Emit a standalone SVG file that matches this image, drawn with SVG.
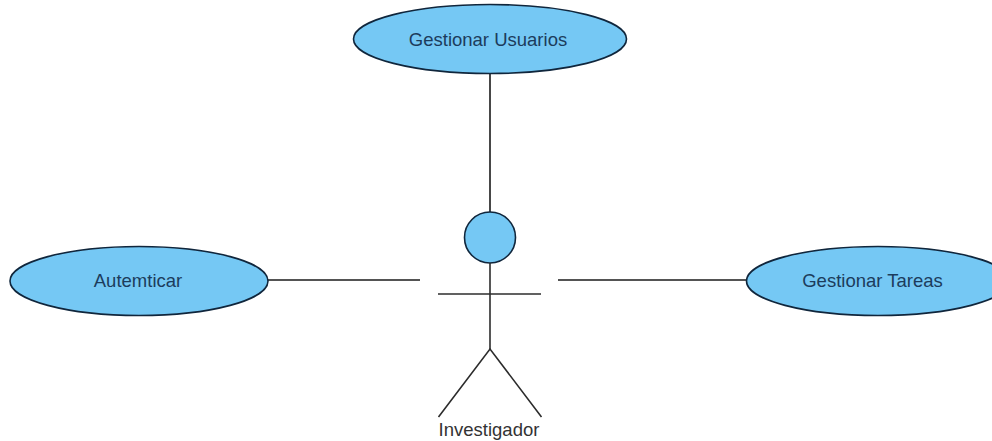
<svg xmlns="http://www.w3.org/2000/svg" width="992" height="441" viewBox="0 0 992 441">
<style>
.uc{fill:#75c8f4;stroke:#10263c;stroke-width:1.6}
.ln{stroke:#1a1a1a;stroke-width:1.6;fill:none}
.act{stroke:#2c2c2c;stroke-width:1.6;fill:none}
text{font-family:"Liberation Sans",Arial,sans-serif;font-size:18.500px;text-anchor:middle}
.ut{fill:#1c3c5c}
.at{fill:#333}
</style>
<rect width="992" height="441" fill="#fff"/>
<g id="connectors">
<line class="ln" x1="490" y1="74" x2="490" y2="212"/>
<line class="ln" x1="268" y1="280" x2="420" y2="280"/>
<line class="ln" x1="558" y1="280" x2="747" y2="280"/>
</g>
<g id="gestionar-usuarios">
<ellipse class="uc" cx="490" cy="39" rx="136.500" ry="34.500"/>
<text class="ut" x="488" y="46">Gestionar Usuarios</text>
</g>
<g id="autenticar">
<ellipse class="uc" cx="139" cy="281" rx="129" ry="34.500"/>
<text class="ut" x="138" y="287">Autemticar</text>
</g>
<g id="gestionar-tareas">
<ellipse class="uc" cx="878" cy="281" rx="131.500" ry="34.500"/>
<text class="ut" x="872.500" y="287">Gestionar Tareas</text>
</g>
<g id="investigador">
<circle class="uc" cx="490" cy="237.500" r="25.500"/>
<line class="act" x1="490" y1="263" x2="490" y2="349"/>
<line class="act" x1="438" y1="294" x2="541" y2="294"/>
<polyline class="act" points="438.500,417 490,349 541.500,417"/>
<text class="at" x="489" y="436">Investigador</text>
</g>
</svg>
